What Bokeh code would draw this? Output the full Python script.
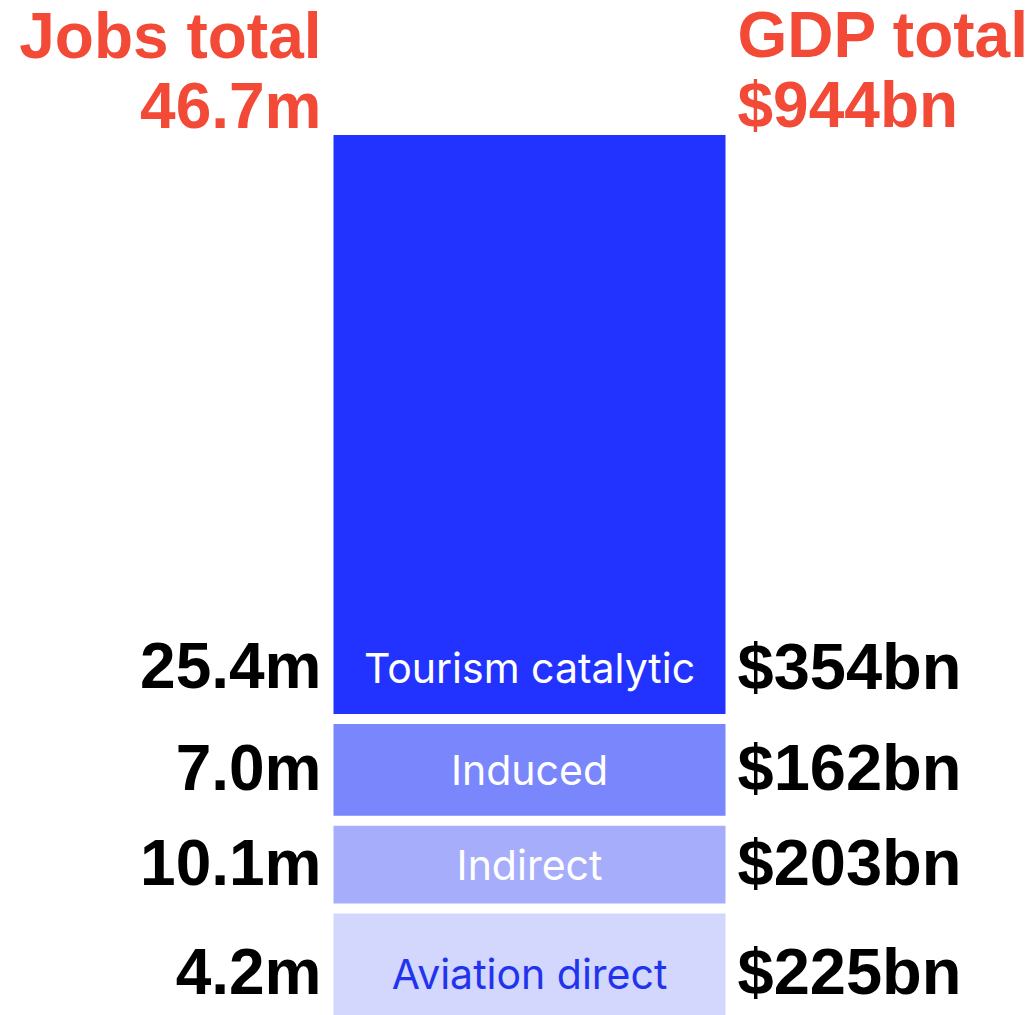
from bokeh.plotting import figure
from bokeh.models import Range1d, ColumnDataSource
from bokeh.core.properties import value
from bokeh.embed import file_html
from bokeh.resources import INLINE

# ---- data ----
segments = ["Aviation direct", "Indirect", "Induced", "Tourism catalytic"]
jobs_labels = ["4.2m", "10.1m", "7.0m", "25.4m"]
gdp_labels = ["$225bn", "$203bn", "$162bn", "$354bn"]
segment_heights = [120, 77.7, 91.7, 579]   # displayed block heights
jobs_total = "46.7m"
gdp_total = "$944bn"

# ---- styles ----
colors = ["#D3D6FD", "#A6AEFC", "#7A86FB", "#2233FF"]
label_colors = ["#2233EE", "#FFFFFF", "#FFFFFF", "#FFFFFF"]
RED = "#F24A37"
BOLD = "Liberation Sans"
LIGHT = "Inter"

W, H = 1033, 1015
p = figure(width=W, height=H, output_backend="svg", toolbar_location=None,
           x_range=Range1d(0, W), y_range=Range1d(0, H),
           min_border=0, min_border_left=0, min_border_right=0,
           min_border_top=0, min_border_bottom=0)
p.axis.visible = False
p.grid.visible = False
p.outline_line_color = None
p.background_fill_color = "white"
p.border_fill_color = "white"

gap = 10
bottoms, tops = [], []
y = -18
for h in segment_heights:
    bottoms.append(y)
    tops.append(y + h)
    y += h + gap

bar_left, bar_right = 333, 725
src = ColumnDataSource(dict(left=[bar_left] * 4, right=[bar_right] * 4,
                            bottom=bottoms, top=tops, color=colors))
p.quad(left="left", right="right", bottom="bottom", top="top",
       fill_color="color", line_color=None, source=src)

# label row centre: middle of the block, or near the bottom of a tall block
centers = []
for b, t in zip(bottoms, tops):
    centers.append(b + 46 if (t - b) > 200 else (b + t) / 2)

# baseline correction for the text glyph rendering (raise text)
seg_shift = 15
big_shift = 22

seg_cap = 30
p.text(x=[(bar_left + bar_right) / 2] * 4,
       y=[c - seg_cap / 2 + seg_shift for c in centers],
       text=segments, text_color=label_colors, text_align="center",
       text_baseline="alphabetic", text_font=value(LIGHT), text_font_size="41px")

num_cap = 44
p.text(x=[321] * 4, y=[c - num_cap / 2 + 2 + big_shift for c in centers], text=jobs_labels,
       text_color="black", text_align="right", text_baseline="alphabetic",
       text_font=value(BOLD), text_font_style="bold", text_font_size="64px")
p.text(x=[737] * 4, y=[c - num_cap / 2 + 2 + big_shift for c in centers], text=gdp_labels,
       text_color="black", text_align="left", text_baseline="alphabetic",
       text_font=value(BOLD), text_font_style="bold", text_font_size="65px")

top = tops[-1]
p.text(x=[321, 321], y=[top + 77 + big_shift, top + 7 + big_shift],
       text=["Jobs total", jobs_total],
       text_color=RED, text_align="right", text_baseline="alphabetic",
       text_font=value(BOLD), text_font_style="bold", text_font_size="64px")
p.text(x=[737, 737], y=[top + 78 + big_shift, top + 8 + big_shift],
       text=["GDP total", gdp_total],
       text_color=RED, text_align="left", text_baseline="alphabetic",
       text_font=value(BOLD), text_font_style="bold", text_font_size="64px")

open("out.html", "w").write(file_html(p, INLINE))
